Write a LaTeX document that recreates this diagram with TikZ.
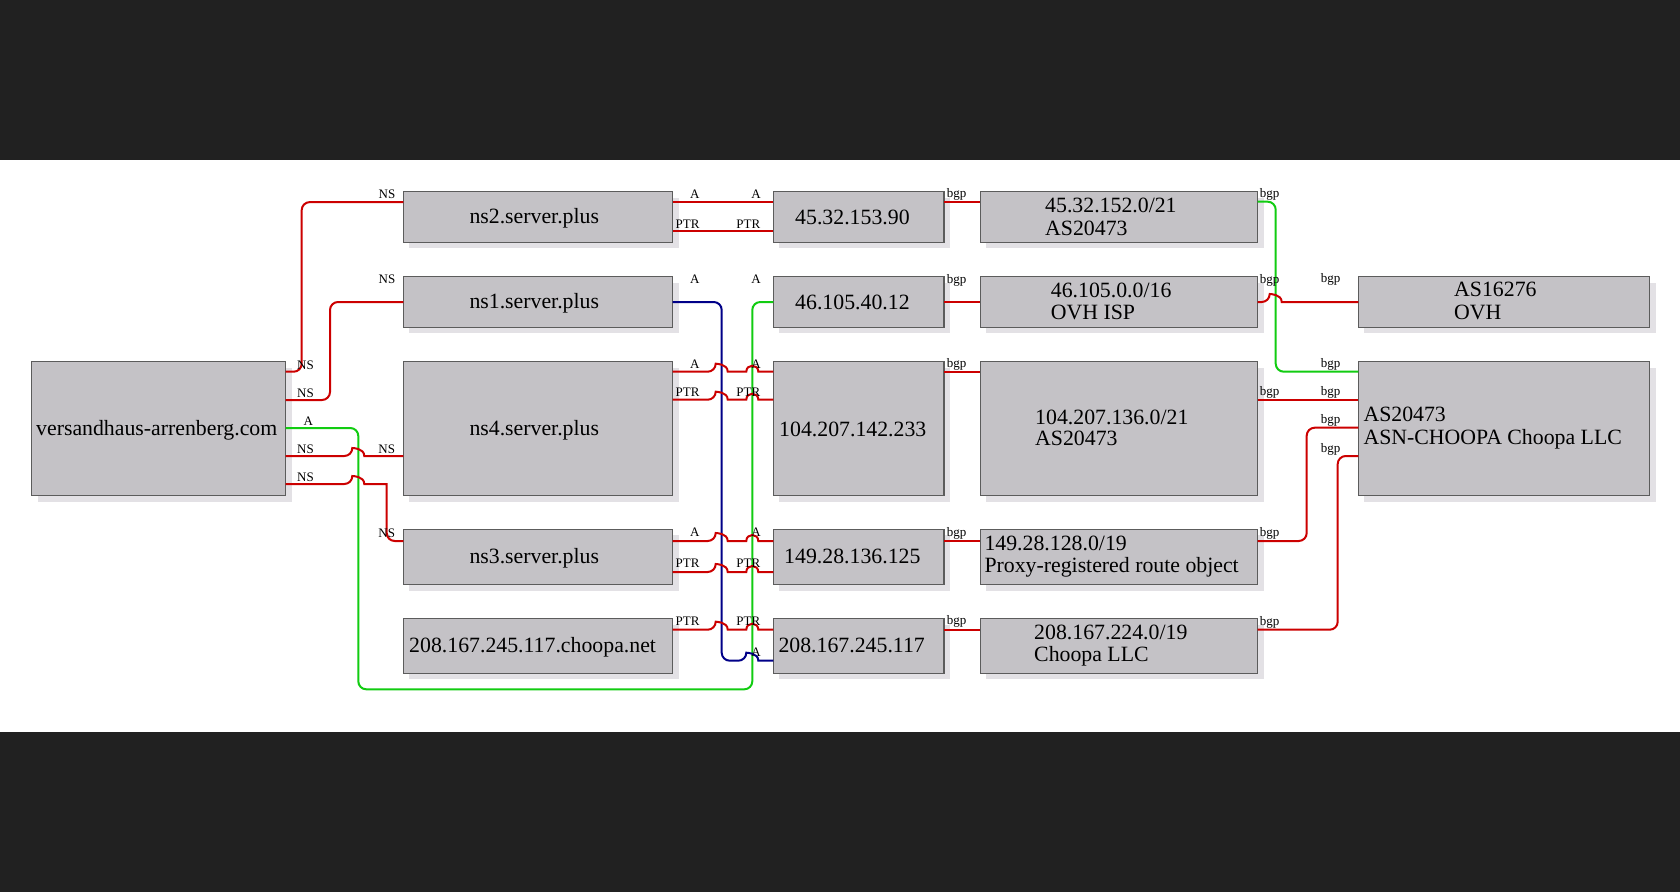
\documentclass[tikz,border=0pt]{standalone}
\usepackage{fontspec}
\setmainfont{Liberation Serif}
\usetikzlibrary{calc,shadows}
\definecolor{bandc}{HTML}{212121}
\definecolor{boxfill}{HTML}{C4C2C6}
\definecolor{boxdraw}{HTML}{5C5C5C}
\definecolor{shadowc}{HTML}{E3E1E5}
\definecolor{redc}{HTML}{CC0000}
\definecolor{greenc}{HTML}{11CC11}
\definecolor{bluec}{HTML}{000088}
\begin{document}
\begin{tikzpicture}[x=1pt,y=-1pt,
  box/.style={draw=boxdraw, fill=boxfill, line width=1.3pt, anchor=north west, inner sep=0pt, outer sep=0pt,
    general shadow={fill=shadowc, shadow xshift=6pt, shadow yshift=-6pt}},
  txt/.style={anchor=base west, inner sep=0pt, font=\fontsize{21.8}{22.3}\selectfont},
  lbl/.style={anchor=base, inner sep=0pt, font=\fontsize{13}{13}\selectfont},
  conn/.style={line width=2pt, rounded corners=8pt},
  redl/.style={conn, draw=redc},
  greenl/.style={conn, draw=greenc},
  bluel/.style={conn, draw=bluec},
  hop/.style={insert path={-- ($(#1)+(-6,0)$) [sharp corners] .. controls +(0,-8) and +(0,-8) .. ($(#1)+(6,0)$)}},
]
\useasboundingbox (0,0) rectangle (1680,892);
\fill[bandc] (0,0) rectangle (1680,160);
\fill[white] (0,160) rectangle (1680,732);
\fill[bandc] (0,732) rectangle (1680,892);

% boxes
\node[box, minimum width=254pt, minimum height=134.3pt] (main) at (31.7,361.5) {};
\node[box, minimum width=269.4pt, minimum height=50.6pt] (ns2) at (403.3,191.7) {};
\node[box, minimum width=269.4pt, minimum height=50.6pt] (ns1) at (403.3,276.7) {};
\node[box, minimum width=269.4pt, minimum height=134.3pt] (ns4) at (403.3,361.5) {};
\node[box, minimum width=269.4pt, minimum height=55.4pt] (ns3) at (403.3,529.3) {};
\node[box, minimum width=269.4pt, minimum height=54.6pt] (cn) at (403.3,618.7) {};
\node[box, minimum width=170.7pt, minimum height=50.6pt] (ip1) at (773.3,191.7) {};
\node[box, minimum width=170.7pt, minimum height=50.6pt] (ip2) at (773.3,276.7) {};
\node[box, minimum width=170.7pt, minimum height=134.3pt] (ip3) at (773.3,361.5) {};
\node[box, minimum width=170.7pt, minimum height=55.4pt] (ip4) at (773.3,529.3) {};
\node[box, minimum width=170.7pt, minimum height=54.6pt] (ip5) at (773.3,618.7) {};
\node[box, minimum width=277.4pt, minimum height=50.6pt] (p1) at (980.3,191.7) {};
\node[box, minimum width=277.4pt, minimum height=50.6pt] (p2) at (980.3,276.7) {};
\node[box, minimum width=277.4pt, minimum height=134.3pt] (p3) at (980.3,361.5) {};
\node[box, minimum width=277.4pt, minimum height=55.4pt] (p4) at (980.3,529.3) {};
\node[box, minimum width=277.4pt, minimum height=54.6pt] (p5) at (980.3,618.7) {};
\node[box, minimum width=291.4pt, minimum height=50.6pt] (a1) at (1358.3,276.7) {};
\node[box, minimum width=291.4pt, minimum height=134.3pt] (a2) at (1358.3,361.5) {};

% texts
\node[txt] (main-t) at (36,435) {versandhaus-arrenberg.com};
\node[txt] (ns2-t) at (469.3,223) {ns2.server.plus};
\node[txt] (ns1-t) at (469.3,308) {ns1.server.plus};
\node[txt] (ns4-t) at (469.3,435) {ns4.server.plus};
\node[txt] (ns3-t) at (469.3,563) {ns3.server.plus};
\node[txt] (cn-t) at (409,652.5) {208.167.245.117.choopa.net};
\node[txt] (ip1-t) at (795,224) {45.32.153.90};
\node[txt] (ip2-t) at (795,309.5) {46.105.40.12};
\node[txt] (ip3-t) at (779,436) {104.207.142.233};
\node[txt] (ip4-t) at (784,563.5) {149.28.136.125};
\node[txt] (ip5-t) at (778.3,652.7) {208.167.245.117};
\node[txt] (p1-ta) at (1045,212.7) {45.32.152.0/21};
\node[txt] (p1-tb) at (1045,235) {AS20473};
\node[txt] (p2-ta) at (1050.7,297.3) {46.105.0.0/16};
\node[txt] (p2-tb) at (1050.7,319.3) {OVH ISP};
\node[txt] (p3-ta) at (1035,424) {104.207.136.0/21};
\node[txt] (p3-tb) at (1035,445.7) {AS20473};
\node[txt] (p4-ta) at (984.3,550.7) {149.28.128.0/19};
\node[txt] (p4-tb) at (984.3,572.7) {Proxy-registered route object};
\node[txt] (p5-ta) at (1034,639.3) {208.167.224.0/19};
\node[txt] (p5-tb) at (1034,661.7) {Choopa LLC};
\node[txt] (a1-ta) at (1454,296.7) {AS16276};
\node[txt] (a1-tb) at (1454,319.3) {OVH};
\node[txt] (a2-ta) at (1363.3,421.7) {AS20473};
\node[txt] (a2-tb) at (1363.3,444) {ASN-CHOOPA Choopa LLC};

% ports and channels
\coordinate (m1) at ($(main.north east)+(0,10.2)$);
\coordinate (m2) at ($(main.north east)+(0,38.5)$);
\coordinate (m3) at ($(main.north east)+(0,66.5)$);
\coordinate (m4) at ($(main.north east)+(0,94.5)$);
\coordinate (m5) at ($(main.north east)+(0,122.5)$);
\coordinate (n2in) at ($(ns2.north west)+(0,10.4)$);
\coordinate (n3in) at ($(ns3.north west)+(0,11.7)$);
\coordinate (chG) at (358.3,689.3);
\coordinate (chG2) at (752.3,689.3);
\coordinate (chB) at (721.7,660.7);
\coordinate (chG3) at (1275.7,371.7);
\coordinate (n2a) at ($(ns2.north east)+(0,10)$);
\coordinate (n2p) at ($(ns2.north east)+(0,39)$);
\coordinate (n4a) at ($(ns4.north east)+(0,10.2)$);
\coordinate (n4p) at ($(ns4.north east)+(0,38.2)$);
\coordinate (n3a) at ($(ns3.north east)+(0,11.7)$);
\coordinate (n3p) at ($(ns3.north east)+(0,42.7)$);
\coordinate (cnp) at ($(cn.north east)+(0,11)$);
\coordinate (i1b) at ($(ip1.north east)+(0,10)$);
\coordinate (i3b) at ($(ip3.north east)+(0,10.2)$);
\coordinate (i4b) at ($(ip4.north east)+(0,11.7)$);
\coordinate (i5b) at ($(ip5.north east)+(0,11)$);
\coordinate (q1) at ($(p1.north east)+(0,10)$);
\coordinate (q3) at ($(p3.north east)+(0,38.2)$);
\coordinate (q4) at ($(p4.north east)+(0,11.7)$);
\coordinate (q5) at ($(p5.north east)+(0,11)$);
\coordinate (a2c) at ($(a2.north west)+(0,66.2)$);
\coordinate (a2d) at ($(a2.north west)+(0,94.5)$);

% domain -> name servers
\draw[redl] (m1) -- ++(16,0) |- (n2in);
\draw[redl] (m2) -- ++(44.3,0) |- (ns1.west);
\draw[greenl] (m3) -| (chG) -- (chG2) |- (ip2.west);
\draw[redl] (m4) [hop={chG|-m4}] -- (m4 -| ns4.west);
\draw[redl] (m5) [hop={chG|-m5}] -- ++(22.4,0) [rounded corners=8pt] |- (n3in);

% name servers -> addresses
\draw[redl] (n2a) -- (n2a -| ip1.west);
\draw[redl] (n2p) -- (n2p -| ip1.west);
\draw[bluel] (ns1.east) -| (chB) [hop={chG2|-chB}] -- (chB -| ip5.west);
\draw[redl] (n4a) [hop={chB|-n4a}] [hop={chG2|-n4a}] -- (n4a -| ip3.west);
\draw[redl] (n4p) [hop={chB|-n4p}] [hop={chG2|-n4p}] -- (n4p -| ip3.west);
\draw[redl] (n3a) [hop={chB|-n3a}] [hop={chG2|-n3a}] -- (n3a -| ip4.west);
\draw[redl] (n3p) [hop={chB|-n3p}] [hop={chG2|-n3p}] -- (n3p -| ip4.west);
\draw[redl] (cnp) [hop={chB|-cnp}] [hop={chG2|-cnp}] -- (cnp -| ip5.west);

% addresses -> prefixes
\draw[redl] (i1b) -- (i1b -| p1.west);
\draw[redl] (ip2.east) -- (p2.west);
\draw[redl] (i3b) -- (i3b -| p3.west);
\draw[redl] (i4b) -- (i4b -| p4.west);
\draw[redl] (i5b) -- (i5b -| p5.west);

% prefixes -> AS
\draw[greenl] (q1) -| (chG3) -- (chG3 -| a2.west);
\draw[redl] (p2.east) [hop={chG3|-p2.east}] -- (p2.east -| a1.west);
\draw[redl] (q3) -- (q3 -| a2.west);
\draw[redl] (q4) -- ++(49,0) |- (a2c);
\draw[redl] (q5) -- ++(80,0) |- (a2d);

% labels
\node[lbl] (l1) at (305.5,369) {NS};
\node[lbl] (l2) at (387,198) {NS};
\node[lbl] (l3) at (305.5,397) {NS};
\node[lbl] (l4) at (387,283) {NS};
\node[lbl] (l5) at (308.3,425) {A};
\node[lbl] (l6) at (756,283.3) {A};
\node[lbl] (l7) at (305.5,453.3) {NS};
\node[lbl] (l8) at (386.7,453.3) {NS};
\node[lbl] (l9) at (305.5,481) {NS};
\node[lbl] (l10) at (386.7,537.3) {NS};

\node[lbl] (l11) at (694.7,198) {A};
\node[lbl] (l12) at (756,198) {A};
\node[lbl] (l13) at (687.5,228) {PTR};
\node[lbl] (l14) at (748.3,228) {PTR};
\node[lbl] (l15) at (694.7,283.3) {A};
\node[lbl] (l16) at (756,656) {A};
\node[lbl] (l17) at (694.7,368.3) {A};
\node[lbl] (l18) at (756,368.3) {A};
\node[lbl] (l19) at (687.5,396) {PTR};
\node[lbl] (l20) at (748.3,396) {PTR};
\node[lbl] (l21) at (694.7,536.7) {A};
\node[lbl] (l22) at (756,536.7) {A};
\node[lbl] (l23) at (687.5,567.3) {PTR};
\node[lbl] (l24) at (748.3,567.3) {PTR};
\node[lbl] (l25) at (687.5,625.7) {PTR};
\node[lbl] (l26) at (748.3,625.7) {PTR};

\node[lbl] (b1) at (956.5,197) {bgp};
\node[lbl] (b2) at (956.5,283) {bgp};
\node[lbl] (b3) at (956.5,367.7) {bgp};
\node[lbl] (b4) at (956.5,536) {bgp};
\node[lbl] (b5) at (956.5,624.7) {bgp};
\node[lbl] (b6) at (1269.7,197.7) {bgp};
\node[lbl] (b7) at (1269.7,283) {bgp};
\node[lbl] (b8) at (1269.7,395) {bgp};
\node[lbl] (b9) at (1269.7,536) {bgp};
\node[lbl] (b10) at (1269.7,625) {bgp};
\node[lbl] (b11) at (1330.5,282) {bgp};
\node[lbl] (b12) at (1330.5,367) {bgp};
\node[lbl] (b13) at (1330.5,395.3) {bgp};
\node[lbl] (b14) at (1330.5,423.7) {bgp};
\node[lbl] (b15) at (1330.5,452) {bgp};
\end{tikzpicture}
\end{document}
